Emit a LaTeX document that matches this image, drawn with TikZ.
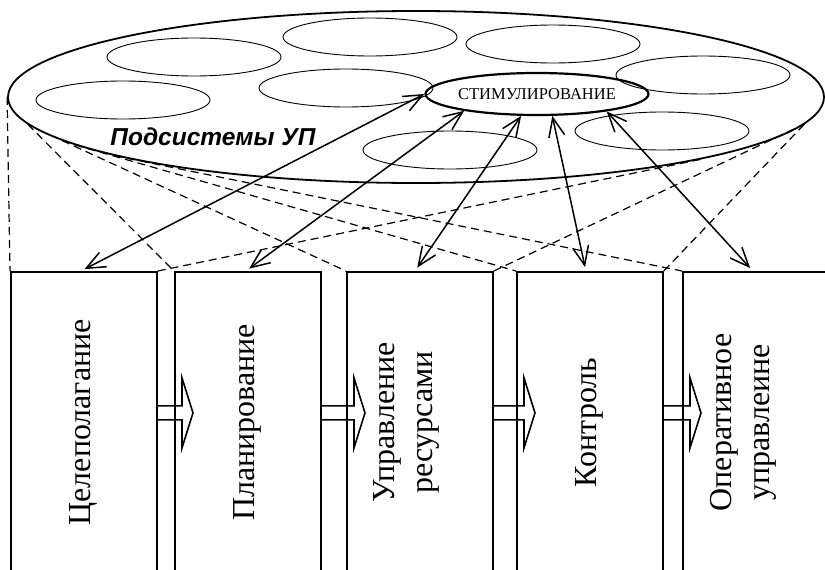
\documentclass[tikz,border=0pt]{standalone}
\usepackage{fontspec}
\setmainfont{Liberation Serif}
\newfontfamily\arialfont{Liberation Sans}
\usetikzlibrary{shapes.geometric,arrows.meta}

\tikzset{
  subsys/.style={ellipse, draw, line width=0.9pt, minimum width=174pt, minimum height=38pt, inner sep=0pt},
  stage/.style={draw, line width=1.8pt, minimum width=146pt, minimum height=301pt, inner sep=0pt, anchor=north west},
  stagelabel/.style={rotate=90, align=center, font=\fontsize{32}{38}\selectfont},
  proj/.style={dash pattern=on 8pt off 5pt, line width=1.2pt},
  link/.style={line width=1.5pt, >={Straight Barb[length=19pt,width=16pt]}, <->, shorten >=4pt},
  flow/.style={line width=1.6pt, line join=miter},
}

\begin{document}
\begin{tikzpicture}[x=1pt, y=-1pt]
	\useasboundingbox (0,0) rectangle (825,570);
	\clip (0,0) rectangle (825,570);

	% subsystems
	\node[ellipse, draw, line width=1.8pt, minimum width=816pt, minimum height=172pt, inner sep=0pt] (big) at (416,97) {};
	\node[subsys] (s1) at (123,100) {};
	\node[subsys] (s2) at (194,57) {};
	\node[subsys] (s3) at (370,37) {};
	\node[subsys] (s4) at (346,88) {};
	\node[subsys] (s5) at (553,44) {};
	\node[subsys] (s6) at (703,75) {};
	\node[subsys] (s7) at (662,131) {};
	\node[subsys] (s8) at (450,150) {};
	\node[subsys, line width=2.2pt, minimum width=182pt, minimum height=42pt, font=\fontsize{16.5}{19}\selectfont] (stim) at (537,94) {СТИМУЛИРОВАНИЕ};
	\node[font=\arialfont\bfseries\itshape\fontsize{24.5}{28}\selectfont] (title) at (213,137) {Подсистемы УП};

	% stages
	\node[stage] (b1) at (10,271) {};
	\node[stage] (b2) at (174,271) {};
	\node[stage] (b3) at (346,271) {};
	\node[stage] (b4) at (516,271) {};
	\node[stage] (b5) at (682,271) {};

	\node[stagelabel] (t1) at (b1) {Целеполагание};
	\node[stagelabel] (t2) at (b2) {Планирование};
	\node[stagelabel] (t3) at ([xshift=-13pt]b3.center) {Управление\\ресурсами};
	\node[stagelabel] (t4) at (b4) {Контроль};
	\node[stagelabel] (t5) at ([xshift=-13pt]b5.center) {Оперативное\\управлеине};

	% projections
	\draw[proj] (big.west) -- (b1.north west);
	\draw[proj] (big.184) -- (b2.north west);
	\draw[proj] (big.187) -- (b3.north west);
	\draw[proj] (big.188.5) -- (b4.north west);
	\draw[proj] (big.191) -- (b5.north west);
	\draw[proj] (b1.north east) -- (big.348);
	\draw[proj] (b3.north east) -- (big.356);
	\draw[proj] (b4.north east) -- (big.356);

	% links
	\draw[link] (stim.west) -- ([xshift=-3pt]b1.north);
	\draw[link] (stim.193) -- ([xshift=-2pt]b2.north);
	\draw[link] (stim.234) -- ([xshift=-5pt]b3.north);
	\draw[link] (stim.305) -- ([xshift=-4pt]b4.north);
	\draw[link] (stim.346) -- ([xshift=-3pt]b5.north);

	% flow
	\foreach \a/\b in {b1/b2, b2/b3, b3/b4, b4/b5}
		\draw[flow] ([yshift=16.5pt]\a.east) -- ([xshift=8pt,yshift=16.5pt]\b.west) -- ++(0,-28)
			-- ([xshift=19pt,yshift=9.5pt]\b.west) -- ([xshift=8pt,yshift=-25.5pt]\b.west) -- ++(0,-28)
			-- ([yshift=2.5pt]\a.east);
\end{tikzpicture}
\end{document}
